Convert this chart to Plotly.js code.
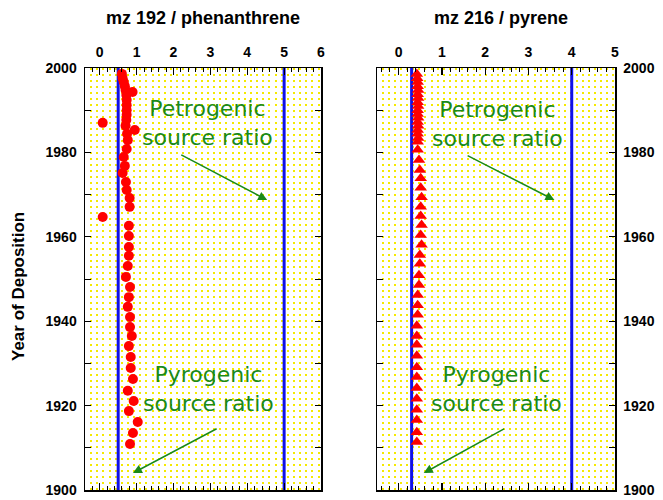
<!DOCTYPE html>
<html>
<head>
<meta charset="utf-8">
<script src="https://cdn.plot.ly/plotly-3.0.1.min.js"></script>
<style>html,body{margin:0;padding:0;background:#fff;}#chart{width:663px;height:500px;}</style>
</head>
<body>
<div id="chart"></div>
<script>
// ---- data ----
var leftYear = [1998.6, 1997.6, 1996.7, 1995.7, 1994.8, 1994.3, 1993.6, 1992.4, 1991.2, 1990.0, 1988.9, 1987.7, 1987.0, 1986.3, 1985.3, 1984.4, 1982.9, 1980.8, 1978.9, 1976.8, 1975.1, 1973.0, 1971.1, 1969.2, 1967.1, 1964.7, 1962.6, 1960.2, 1957.6, 1955.5, 1953.1, 1950.5, 1948.1, 1945.7, 1943.4, 1941.0, 1938.6, 1936.5, 1934.1, 1931.5, 1928.9, 1926.3, 1923.5, 1921.1, 1918.7, 1916.1, 1913.5, 1910.9];
var leftRatio = [0.60, 0.62, 0.65, 0.68, 0.70, 0.89, 0.72, 0.73, 0.73, 0.73, 0.73, 0.72, 0.08, 0.70, 0.95, 0.74, 0.76, 0.73, 0.65, 0.68, 0.62, 0.71, 0.73, 0.81, 0.81, 0.08, 0.79, 0.79, 0.79, 0.79, 0.76, 0.71, 0.82, 0.79, 0.76, 0.82, 0.82, 0.87, 0.79, 0.84, 0.84, 0.90, 0.76, 0.92, 0.79, 1.03, 0.90, 0.82];

var rightYear = [1998.6, 1997.6, 1996.7, 1995.7, 1994.8, 1993.8, 1992.9, 1991.9, 1991.0, 1990.0, 1989.1, 1988.2, 1987.2, 1986.3, 1985.3, 1984.4, 1983.4, 1982.5, 1980.6, 1978.2, 1975.8, 1973.9, 1971.6, 1969.4, 1967.1, 1964.9, 1962.8, 1960.4, 1958.1, 1955.7, 1953.6, 1950.9, 1948.6, 1946.2, 1943.8, 1941.5, 1938.9, 1936.5, 1934.4, 1931.8, 1929.1, 1926.8, 1924.2, 1921.6, 1919.0, 1916.6, 1913.7, 1911.4];
var rightRatio = [0.42, 0.43, 0.44, 0.44, 0.45, 0.44, 0.45, 0.44, 0.45, 0.44, 0.44, 0.45, 0.44, 0.45, 0.44, 0.44, 0.45, 0.44, 0.44, 0.47, 0.49, 0.51, 0.51, 0.53, 0.51, 0.51, 0.53, 0.51, 0.53, 0.49, 0.49, 0.47, 0.47, 0.44, 0.44, 0.44, 0.42, 0.42, 0.42, 0.42, 0.42, 0.42, 0.42, 0.42, 0.42, 0.42, 0.42, 0.42];

var leftRefLines = [0.5, 5];
var rightRefLines = [0.3, 4];

var leftTitle = "mz 192 / phenanthrene";
var rightTitle = "mz 216 / pyrene";
var yTitle = "Year of Deposition";
var petroText = "Petrogenic<br>source ratio";
var pyroText = "Pyrogenic<br>source ratio";

// ---- styling ----
var bold = {family: "Liberation Sans, Arial, sans-serif", size: 14, color: "#000", weight: "bold"};
var green = "#1a8a1a";
var noteFont = {family: "DejaVu Sans, sans-serif", size: 22, color: green};

function xAxis(domain, range, anchor) {
  return {
    domain: domain, range: range, anchor: anchor, side: "top",
    dtick: 1, tick0: 0, ticks: "inside", ticklen: 7, tickwidth: 1.2, tickcolor: "#000",
    minor: {dtick: 0.2, ticks: "inside", ticklen: 4, tickwidth: 1, tickcolor: "#000", showgrid: false},
    showline: true, linecolor: "#000", linewidth: 1.5, mirror: "allticks",
    showgrid: false, zeroline: false, tickfont: bold, ticklabelstandoff: 4, fixedrange: true
  };
}
function gridAxis(over, range, anchor, dt) {
  return {
    overlaying: over, range: range, anchor: anchor, side: "top",
    dtick: dt, tick0: range[0], ticks: "", showticklabels: false, showline: false,
    showgrid: true, gridcolor: "#f5ea00", gridwidth: 2, griddash: "2px,4px",
    zeroline: false, fixedrange: true
  };
}
function yAxis(side, anchor) {
  return {
    domain: [0.02, 0.864], range: [1900, 2000], anchor: anchor, side: side,
    dtick: 20, ticks: "inside", ticklen: 6, tickwidth: 1.2, tickcolor: "#000",
    minor: {dtick: 10, ticks: "inside", ticklen: 4, tickwidth: 1, tickcolor: "#000", showgrid: false},
    showline: true, linecolor: "#000", linewidth: 1.5, mirror: "allticks",
    showgrid: false, zeroline: false, tickfont: bold, ticklabelstandoff: 4, fixedrange: true
  };
}

var traces = [
  {x: [], y: [], xaxis: "x3", yaxis: "y", type: "scatter", mode: "markers", showlegend: false, hoverinfo: "skip"},
  {x: [], y: [], xaxis: "x4", yaxis: "y2", type: "scatter", mode: "markers", showlegend: false, hoverinfo: "skip"},
  {x: leftRatio, y: leftYear, xaxis: "x", yaxis: "y", type: "scatter", mode: "markers",
   marker: {symbol: "circle", size: 10, color: "#ff0000"}, showlegend: false},
  {x: rightRatio, y: rightYear, xaxis: "x2", yaxis: "y2", type: "scatter", mode: "markers",
   marker: {symbol: "triangle-up", size: 11, color: "#ff0000"}, showlegend: false}
];

var shapes = [];
leftRefLines.forEach(function (v) {
  shapes.push({type: "line", xref: "x", yref: "y", x0: v, x1: v, y0: 1900, y1: 2000, layer: "between",
    line: {color: "#1010e8", width: 3}});
});
rightRefLines.forEach(function (v) {
  shapes.push({type: "line", xref: "x2", yref: "y2", x0: v, x1: v, y0: 1900, y1: 2000, layer: "between",
    line: {color: "#1010e8", width: 3}});
});

function note(xref, yref, x, y, text) {
  return {xref: xref, yref: yref, x: x, y: y, text: text, showarrow: false, font: noteFont,
    align: "center", xanchor: "center", yanchor: "middle"};
}
function arrow(xref, yref, x0, y0, x1, y1) {
  return {xref: xref, yref: yref, axref: xref, ayref: yref, x: x1, y: y1, ax: x0, ay: y0,
    text: "", showarrow: true, arrowhead: 2, arrowsize: 1.2, arrowwidth: 1.5, arrowcolor: green, standoff: 0};
}

var titleFont = {family: "Liberation Sans, Arial, sans-serif", size: 18, color: "#000", weight: "bold"};
var annotations = [
  {xref: "paper", yref: "paper", x: 203 / 663, y: 1 - 18 / 500, text: leftTitle, showarrow: false,
   font: titleFont, xanchor: "center", yanchor: "middle"},
  {xref: "paper", yref: "paper", x: 501 / 663, y: 1 - 18 / 500, text: rightTitle, showarrow: false,
   font: titleFont, xanchor: "center", yanchor: "middle"},
  {xref: "paper", yref: "paper", x: 18 / 663, y: 1 - 287 / 500, text: yTitle, showarrow: false, textangle: -90,
   font: {family: "Liberation Sans, Arial, sans-serif", size: 17, color: "#000", weight: "bold"}, xanchor: "center", yanchor: "middle"},
  note("x", "y", 2.93, 1987.0, petroText),
  note("x2", "y2", 2.28, 1986.7, petroText),
  note("x", "y", 2.96, 1923.9, pyroText),
  note("x2", "y2", 2.26, 1923.9, pyroText),
  arrow("x", "y", 2.17, 1979.6, 4.54, 1968.7),
  arrow("x2", "y2", 1.56, 1979.4, 3.60, 1968.7),
  arrow("x", "y", 3.21, 1914.7, 0.90, 1904.0),
  arrow("x2", "y2", 2.47, 1914.7, 0.58, 1904.0)
];

var layout = {
  width: 663, height: 500,
  margin: {l: 0, r: 0, t: 0, b: 0},
  paper_bgcolor: "#fff", plot_bgcolor: "#fff",
  showlegend: false,
  xaxis: xAxis([85 / 663, 321 / 663], [-0.4, 6], "y"),
  yaxis: yAxis("left", "x"),
  xaxis2: xAxis([377 / 663, 615 / 663], [-0.5, 5], "y2"),
  yaxis2: yAxis("right", "x2"),
  xaxis3: gridAxis("x", [-0.4, 6], "y", 1 / 6),
  xaxis4: gridAxis("x2", [-0.5, 5], "y2", 0.14),
  shapes: shapes,
  annotations: annotations
};

Plotly.newPlot("chart", traces, layout, {displayModeBar: false, staticPlot: true});
</script>
</body>
</html>
